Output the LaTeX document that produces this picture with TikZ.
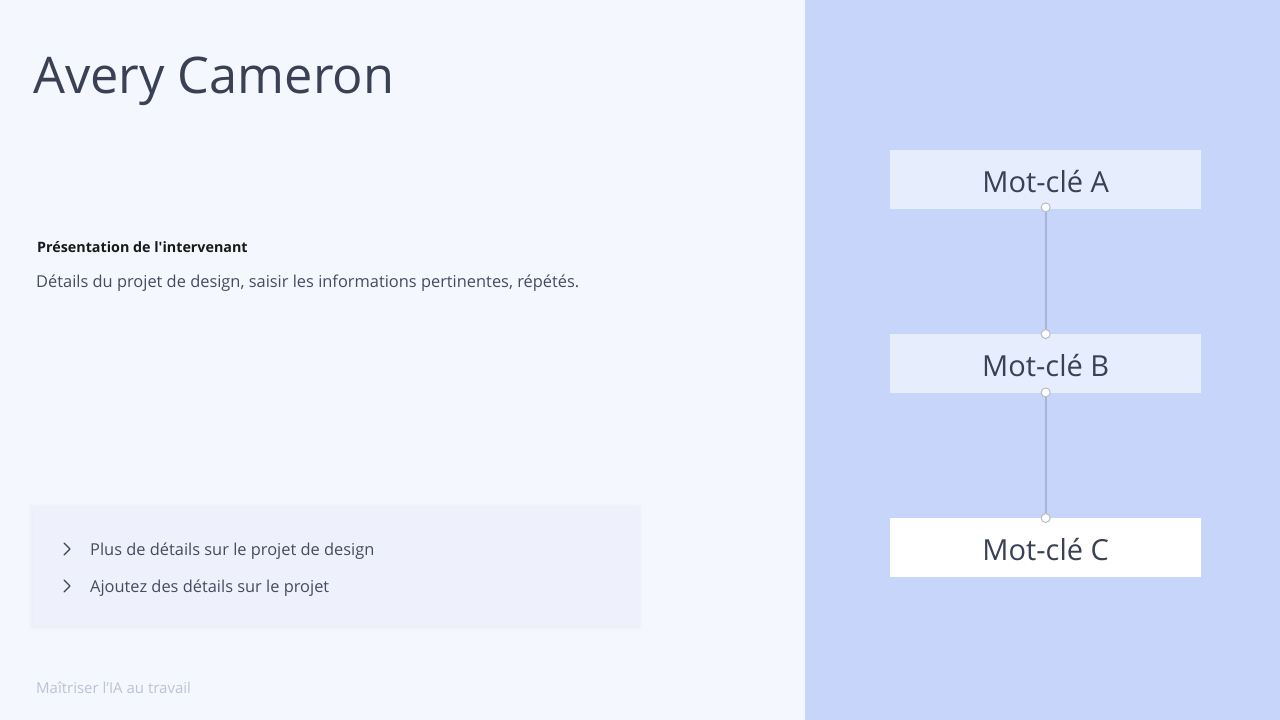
\documentclass[tikz,border=0pt]{standalone}
\usepackage{fontspec}
\setmainfont{Open Sans}
\newfontfamily\plainsans[Ligatures=TeXOff]{Open Sans}
\definecolor{leftbg}{HTML}{F5F7FE}
\definecolor{rightbg}{HTML}{C8D5FB}
\definecolor{inkdark}{HTML}{3A4154}
\definecolor{inkbody}{HTML}{454C60}
\definecolor{cardbg}{HTML}{EEF1FC}
\definecolor{kwbg}{HTML}{E6EDFD}
\definecolor{footgray}{HTML}{BDC3D6}
\definecolor{linkcol}{HTML}{A8B5D8}
\definecolor{dotline}{HTML}{B8BCC8}
\tikzset{
  kwbox/.style={minimum width=311pt, minimum height=59pt, inner sep=0pt, text height=30pt, text depth=5pt, font=\fontsize{29}{34}\selectfont, text=inkdark, anchor=north west},
  dot/.style={circle, draw=dotline, fill=white, line width=1pt, minimum size=9pt, inner sep=0pt},
  link/.style={draw=linkcol, line width=1.6pt},
  txt/.style={anchor=base west, inner sep=0pt},
  chev/.style={draw=inkdark, line width=1.3pt, line cap=round, line join=round}
}
\begin{document}
\begin{tikzpicture}[x=1pt,y=-1pt]
\useasboundingbox (0,0) rectangle (1280,720);
\fill[leftbg] (0,0) rectangle (805,720);
\fill[rightbg] (805,0) rectangle (1280,720);
% title
\node[txt, text=inkdark, font=\fontsize{50.5}{60}\selectfont] (title) at (33,93) {Avery Cameron};
\node[txt, text=black!90, font=\plainsans\fontsize{14.3}{18}\selectfont\bfseries] (sub) at (37,252) {Présentation de l'intervenant};
\node[txt, text=inkbody, font=\fontsize{16.4}{20}\selectfont] (desc) at (36,287) {Détails du projet de design, saisir les informations pertinentes, répétés.};
% card with soft halo
\foreach \d in {4,3,2,1}{
  \fill[black, opacity=0.007] (33-\d,508-\d) rectangle (638+\d,626+\d);
}
\fill[cardbg] (33,508) rectangle (638,626);
\draw[chev] (64,543) -- (70,549) -- (64,555);
\node[txt, text=inkbody, font=\fontsize{16.4}{20}\selectfont] (b1) at (90,555) {Plus de détails sur le projet de design};
\draw[chev] (64,580) -- (70,586) -- (64,592);
\node[txt, text=inkbody, font=\fontsize{16.4}{20}\selectfont] (b2) at (90,592) {Ajoutez des détails sur le projet};
% footer
\node[txt, text=footgray, font=\fontsize{15}{18}\selectfont] (foot) at (36,693) {Maîtriser l’IA au travail};
% keywords
\node[kwbox, fill=kwbg] (A) at (890,150) {Mot-clé A};
\node[kwbox, fill=kwbg] (B) at (890,334) {Mot-clé B};
\node[kwbox, fill=white] (C) at (890,518) {Mot-clé C};
\draw[link] ([yshift=2pt]A.south) -- (B.north);
\draw[link] ([yshift=1pt]B.south) -- (C.north);
\node[dot] at ([yshift=2pt]A.south) {};
\node[dot] at (B.north) {};
\node[dot] at ([yshift=1pt]B.south) {};
\node[dot] at (C.north) {};
\end{tikzpicture}
\end{document}
